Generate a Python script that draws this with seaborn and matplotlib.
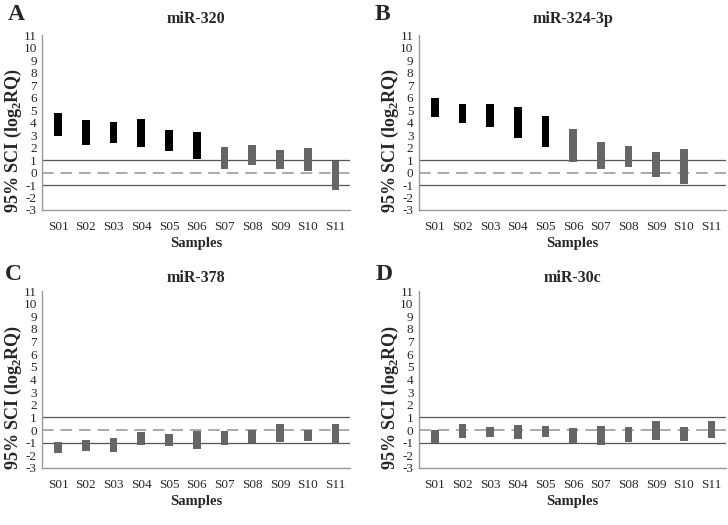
import numpy as np
import pandas as pd
import seaborn as sns
import matplotlib.pyplot as plt

samples = ["S01", "S02", "S03", "S04", "S05", "S06", "S07", "S08", "S09", "S10", "S11"]

# 95% SCI bounds (log2 RQ) per sample
a_low = [2.92, 2.22, 2.38, 2.08, 1.73, 1.11, 0.30, 0.62, 0.30, 0.16, -1.41]
a_high = [4.78, 4.22, 4.05, 4.30, 3.43, 3.22, 2.03, 2.22, 1.81, 1.97, 0.89]
a_group = ["up", "up", "up", "up", "up", "up", "ns", "ns", "ns", "ns", "ns"]

b_low = [4.47, 3.95, 3.63, 2.76, 2.05, 0.85, 0.29, 0.45, -0.37, -0.92, np.nan]
b_high = [5.95, 5.47, 5.45, 5.21, 4.50, 3.49, 2.45, 2.16, 1.61, 1.89, np.nan]
b_group = ["up", "up", "up", "up", "up", "ns", "ns", "ns", "ns", "ns", "ns"]

c_low = [-1.79, -1.68, -1.71, -1.15, -1.28, -1.47, -1.20, -1.00, -0.93, -0.85, -1.09]
c_high = [-0.93, -0.75, -0.64, -0.16, -0.35, -0.08, -0.08, -0.03, 0.45, -0.03, 0.45]
c_group = ["ns"] * 11

d_low = [-1.04, -0.59, -0.56, -0.72, -0.51, -1.00, -1.17, -0.96, -0.75, -0.85, -0.59]
d_high = [-0.03, 0.45, 0.27, 0.37, 0.29, 0.19, 0.35, 0.27, 0.72, 0.27, 0.72]
d_group = ["ns"] * 11

panels = [
    ("A", "miR-320", a_low, a_high, a_group),
    ("B", "miR-324-3p", b_low, b_high, b_group),
    ("C", "miR-378", c_low, c_high, c_group),
    ("D", "miR-30c", d_low, d_high, d_group),
]
group_colors = {"up": "#000000", "ns": "#666666"}

sns.set_style("white")
plt.rcParams["font.family"] = ["Liberation Serif", "DejaVu Serif"]
plt.rcParams["mathtext.fontset"] = "custom"
plt.rcParams["mathtext.rm"] = "Liberation Serif"
plt.rcParams["mathtext.bf"] = "Liberation Serif:bold"

fig = plt.figure(figsize=(7.28, 5.25), dpi=100)

# axes boxes in figure fraction [left, bottom, width, height]
boxes = [
    [0.058, 0.600, 0.423, 0.333],
    [0.5755, 0.600, 0.422, 0.333],
    [0.058, 0.1086, 0.423, 0.337],
    [0.5755, 0.1086, 0.422, 0.337],
]
letter_pos = [(8, 14), (375, 14), (5, 274), (376, 275)]
title_pad = [9, 9, 6.5, 6.5]

for i, (letter, name, low, high, group) in enumerate(panels):
    ax = fig.add_axes(boxes[i])
    df = pd.DataFrame({"sample": samples, "low": low, "high": high, "group": group})
    df = df.dropna()
    df["span"] = df["high"] - df["low"]

    ax.axhline(1, color="#555555", lw=0.9, zorder=0.5)
    ax.axhline(-1, color="#555555", lw=0.9, zorder=0.5)
    ax.axhline(0, color="#aaaaaa", lw=1.4, ls=(0, (6, 3.5)), zorder=0.5)

    for g, c in group_colors.items():
        sub = df[df["group"] == g]
        if sub.empty:
            continue
        sns.barplot(data=sub, x="sample", y="span", order=samples,
                    bottom=sub["low"].values, color=c, width=0.28,
                    errorbar=None, linewidth=0, saturation=1, ax=ax)

    ax.set_xlim(-0.57, 10.53)
    ax.set_ylim(-3, 11)
    ax.set_yticks(range(-3, 12))
    ax.set_yticklabels([str(v) for v in range(-3, 12)])
    ax.tick_params(axis="y", labelsize=9.5, length=3, width=0.8, color="#888888", pad=1)
    ax.tick_params(axis="x", labelsize=9.5, length=4, width=0.8, color="#888888", pad=4)
    for s in ["top", "right"]:
        ax.spines[s].set_visible(False)
    for s in ["left", "bottom"]:
        ax.spines[s].set_color("#999999")
        ax.spines[s].set_linewidth(1)

    ax.set_xlabel("Samples", fontsize=10.5, fontweight="bold", labelpad=3)
    ax.set_ylabel(r"95% SCI (log$_\mathbf{2}$RQ)", fontsize=13,
                  fontweight="bold")
    ax.yaxis.set_label_coords(-0.058, 0.40)
    ax.set_title(name, fontsize=11.5, fontweight="bold", pad=title_pad[i])

    lx, ly = letter_pos[i]
    fig.text(lx / 728, 1 - ly / 525, letter, ha="left", va="center",
             fontsize=17, fontweight="bold")

fig.savefig("out.png", dpi=100)
